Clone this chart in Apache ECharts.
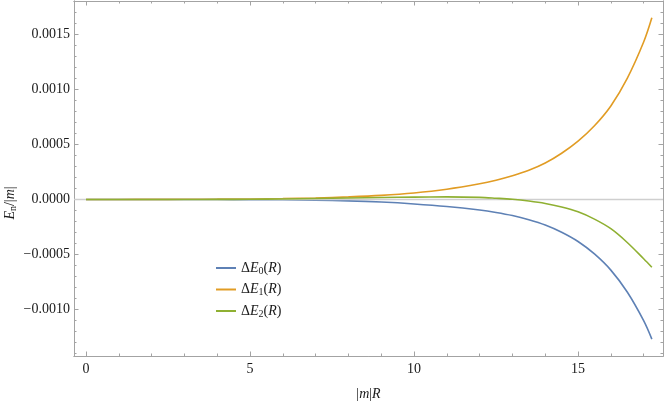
<!DOCTYPE html>
<html><head><meta charset="utf-8">
<script src="https://cdn.jsdelivr.net/npm/echarts@6/dist/echarts.min.js"></script>
<style>html,body{margin:0;padding:0;background:#fff}#c{width:664px;height:406px}</style>
</head><body><div id="c"></div>
<script>
// ---- data ----
const xs   = [0,1,2,3,4,5,6,7,8,9,10,11,12,12.5,13,13.5,14,14.5,15,15.5,16,16.5,17,17.25];
const dE0  = [0,0,0,0,-0.0000003,-0.000001,-0.0000025,-0.000006,-0.000012,-0.000023,-0.00004,-0.000063,-0.000095,-0.000117,-0.000145,-0.000183,-0.000231,-0.000297,-0.000381,-0.000494,-0.000641,-0.00084,-0.0011,-0.001268];
const dE1  = [0,0.0000008,0.0000013,0.0000021,0.0000034,0.0000055,0.0000088,0.000014,0.000024,0.000038,0.00006,0.000094,0.000143,0.000175,0.000215,0.000265,0.000331,0.00042,0.00053,0.00067,0.00085,0.0011,0.00143,0.00165];
const dE2  = [0,0,0,0,0.000001,0.000002,0.000005,0.000009,0.000014,0.000019,0.000022,0.000024,0.00002,0.000012,0.000002,-0.000014,-0.000036,-0.000068,-0.000112,-0.000178,-0.000265,-0.00039,-0.000538,-0.000615];
const seriesIds = ['0','1','2'];
const xMajorTicks = [0,5,10,15];
const xMinorTicks = [0,1,2,3,4,5,6,7,8,9,10,11,12,13,14,15,16,17];
const yMajorTicks = [-0.001,-0.0005,0,0.0005,0.001,0.0015];
const yMinorTicks = [-0.0014,-0.0013,-0.0012,-0.0011,-0.001,-0.0009,-0.0008,-0.0007,-0.0006,-0.0005,-0.0004,-0.0003,-0.0002,-0.0001,0,0.0001,0.0002,0.0003,0.0004,0.0005,0.0006,0.0007,0.0008,0.0009,0.001,0.0011,0.0012,0.0013,0.0014,0.0015,0.0016,0.0017,0.0018];
const X_MIN = -0.366, X_MAX = 17.59;
const Y_MIN = -0.001421, Y_MAX = 0.001803;
const colors = ['#5E81B5','#E19C24','#8FB032'];

const F = 'Liberation Serif';
const FRAME = '#a3a3a3';
const TXT = '#1a1a1a';

function xAx(pos, ticks, len, labels) {
  return {
    type: 'value', min: X_MIN, max: X_MAX, position: pos,
    axisLine: {show: true, onZero: false, lineStyle: {color: FRAME, width: 1}},
    axisTick: {show: true, inside: true, length: len, customValues: ticks, lineStyle: {color: FRAME}},
    axisLabel: {show: labels, customValues: xMajorTicks, margin: 6, color: TXT, fontFamily: F, fontSize: 14},
    splitLine: {show: false}
  };
}
function yAx(pos, ticks, len, labels) {
  return {
    type: 'value', min: Y_MIN, max: Y_MAX, position: pos,
    axisLine: {show: true, onZero: false, lineStyle: {color: FRAME, width: 1}},
    axisTick: {show: true, inside: true, length: len, customValues: ticks, lineStyle: {color: FRAME}},
    axisLabel: {show: labels, customValues: yMajorTicks, margin: 4, color: TXT, fontFamily: F, fontSize: 14,
      formatter: v => (v < -1e-12 ? '\u2212' : '') + Math.abs(v).toFixed(4)},
    splitLine: {show: false}
  };
}

const xBottom = xAx('bottom', xMajorTicks, 4.5, true);
xBottom.name = '{u||}{i|m}{u||}{i|R}';
xBottom.nameLocation = 'middle';
xBottom.nameGap = 31;
xBottom.nameTextStyle = {color: TXT, fontFamily: F, fontSize: 14, rich: {
  u: {fontFamily: F, fontSize: 14, color: TXT},
  i: {fontFamily: F, fontSize: 14, fontStyle: 'italic', color: TXT}
}};

const richLegend = {
  u: {fontFamily: F, fontSize: 14, color: TXT, lineHeight: 16},
  i: {fontFamily: F, fontSize: 14, fontStyle: 'italic', color: TXT, lineHeight: 16},
  s: {fontFamily: F, fontSize: 10, color: TXT, lineHeight: 12, verticalAlign: 'bottom'}
};

const series = [dE0, dE1, dE2].map((arr, k) => ({
  name: 'dE' + seriesIds[k], type: 'line', xAxisIndex: 0, yAxisIndex: 0,
  data: xs.map((x, i) => [x, arr[i]]),
  smooth: 0.35, symbol: 'none', showSymbol: false,
  lineStyle: {color: colors[k], width: 1.6}, itemStyle: {color: colors[k]},
  z: 3 + k
}));
series.push({
  type: 'line', data: [], xAxisIndex: 0, yAxisIndex: 0, silent: true, z: 1,
  markLine: {silent: true, symbol: 'none', label: {show: false},
    lineStyle: {color: '#cfcfcf', width: 1.3, type: 'solid'}, data: [{yAxis: 0}]}
});

const chart = echarts.init(document.getElementById('c'), null, {renderer: 'canvas'});
chart.setOption({
  animation: false,
  backgroundColor: '#fff',
  grid: {left: 74, right: 1, top: 1, bottom: 42, containLabel: false},
  xAxis: [xBottom, xAx('bottom', xMinorTicks, 2.5, false), xAx('top', xMajorTicks, 4.5, false), xAx('top', xMinorTicks, 2.5, false)],
  yAxis: [yAx('left', yMajorTicks, 4.5, true), yAx('left', yMinorTicks, 2.5, false), yAx('right', yMajorTicks, 4.5, false), yAx('right', yMinorTicks, 2.5, false)],
  legend: {
    orient: 'vertical', left: 211, top: 256, itemWidth: 20, itemHeight: 2, itemGap: 6.5,
    icon: 'rect',
    data: series.slice(0, 3).map(s => ({name: s.name, icon: 'rect'})),
    textStyle: {fontFamily: F, fontSize: 14, color: TXT, rich: richLegend},
    formatter: name => '{u|\u0394}{i|E}{s|' + name.slice(-1) + '}{u|(}{i|R}{u|)}'
  },
  graphic: [{
    type: 'text', x: 10, y: 203, rotation: Math.PI / 2,
    style: {
      text: '{i|E}{s|n}{u|/|}{i|m}{u||}',
      align: 'center', verticalAlign: 'middle', fill: TXT,
      fontFamily: F, fontSize: 14,
      rich: richLegend
    }
  }],
  series: series
});
</script>
</body></html>
